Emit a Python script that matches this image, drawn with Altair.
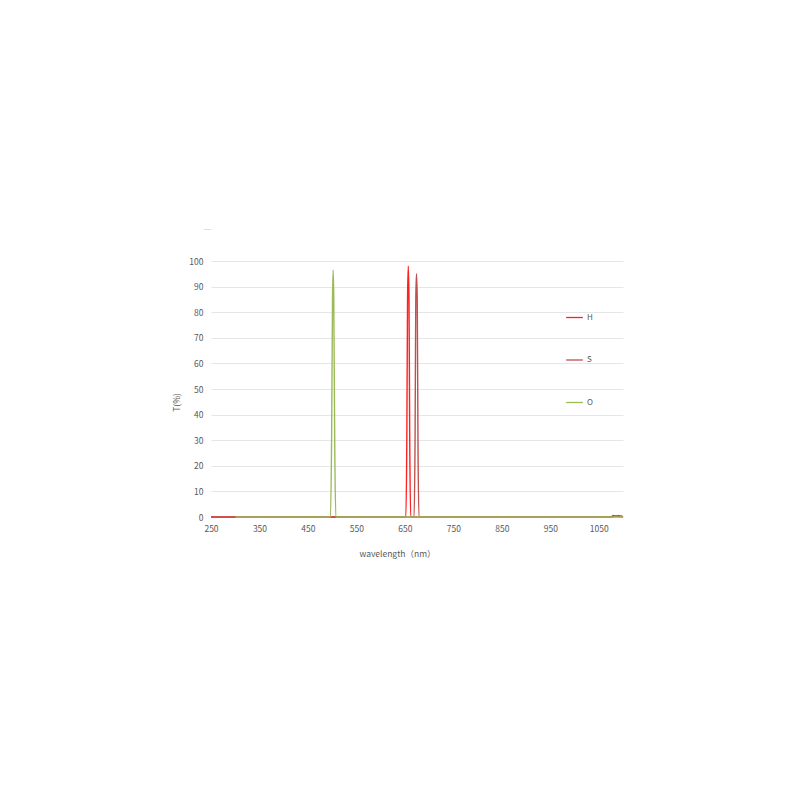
import altair as alt
import pandas as pd

# H-alpha filter
wl_H = [250, 300, 640, 652, 654, 655.5, 657, 658.5, 660, 662, 670, 1075, 1080, 1084, 1088, 1092, 1096, 1100]
t_H = [0, 0, 0, 0, 30, 85, 98, 85, 30, 0, 0, 0, 0.6, 0.2, 0.5, 0.2, 0.4, 0]

# S-II filter
wl_S = [250, 300, 665, 669, 671, 672.5, 674, 675.5, 677, 679, 690, 1078, 1083, 1087, 1091, 1095, 1100]
t_S = [0, 0, 0, 0, 30, 85, 95, 85, 30, 0, 0, 0, 0.5, 0.2, 0.6, 0.2, 0]

# O-III filter
wl_O = [300, 490, 496.5, 498.8, 500.7, 502, 503.3, 505.2, 507.5, 515, 1100]
t_O = [0, 0, 0, 30, 85, 96.5, 85, 30, 0, 0, 0]

series_names = ["H", "S", "O"]
series_colors = ["#ff2020", "#c0504d", "#9bbb59"]

x_ticks = [250, 350, 450, 550, 650, 750, 850, 950, 1050]
y_ticks = [0, 10, 20, 30, 40, 50, 60, 70, 80, 90, 100]

def frame(name, wl, t):
    return pd.DataFrame({"wavelength": wl, "T": t, "filter": name})

dfH = frame("H", wl_H, t_H)
dfS = frame("S", wl_S, t_S)
dfO = frame("O", wl_O, t_O)

font = "Noto Sans CJK SC"
gray = "#595959"

color = alt.Color(
    "filter:N",
    scale=alt.Scale(domain=series_names, range=series_colors),
    legend=alt.Legend(
        title=None,
        orient="none",
        legendX=354,
        legendY=47,
        symbolType="stroke",
        symbolSize=280,
        symbolStrokeWidth=1.3,
        labelFontSize=8,
        labelColor=gray,
        labelFont=font,
        rowPadding=28.5,
        labelOffset=3,
        padding=0,
    ),
)

x = alt.X(
    "wavelength:Q",
    scale=alt.Scale(domain=[250, 1100], nice=False, zero=False),
    axis=alt.Axis(
        values=x_ticks,
        format="d",
        labelFlush=False,
        title="wavelength（nm）",
        grid=False,
        domain=False,
        ticks=False,
        labelFontSize=8.5,
        labelColor=gray,
        labelFont=font,
        labelPadding=7,
        titleFont=font,
        titleFontSize=8.5,
        titleFontWeight="normal",
        titleColor=gray,
        titlePadding=17,
        titleX=186,
        titleAlign="center",
    ),
)
y = alt.Y(
    "T:Q",
    scale=alt.Scale(domain=[0, 100], nice=False),
    axis=alt.Axis(
        values=y_ticks,
        format="d",
        title="T(%)",
        grid=True,
        gridColor="#e6e6e6",
        gridWidth=1,
        domain=False,
        ticks=False,
        labelFontSize=8.5,
        labelColor=gray,
        labelFont=font,
        labelPadding=8,
        titleFont=font,
        titleFontSize=8.5,
        titleFontWeight="normal",
        titleColor=gray,
        titlePadding=7,
        titleY=141,
    ),
)

def layer(df):
    return alt.Chart(df).mark_line(strokeWidth=1.4, interpolate="monotone").encode(
        x=x, y=y, color=color, order="wavelength:Q"
    )

chart = alt.layer(layer(dfH), layer(dfS), layer(dfO)).properties(
    width=412,
    height=256,
    background="white",
    title=alt.TitleParams(
        text="—", fontSize=7, color="#c8c8c8", anchor="start", frame="group",
        dx=-7, offset=25, fontWeight="normal"
    ),
    autosize=alt.AutoSizeParams(type="none"),
    padding={"left": 203, "top": 253, "right": 160, "bottom": 250},
).configure_view(stroke=None)

chart.save("out.html", embed_options={"renderer": "svg", "actions": False})
